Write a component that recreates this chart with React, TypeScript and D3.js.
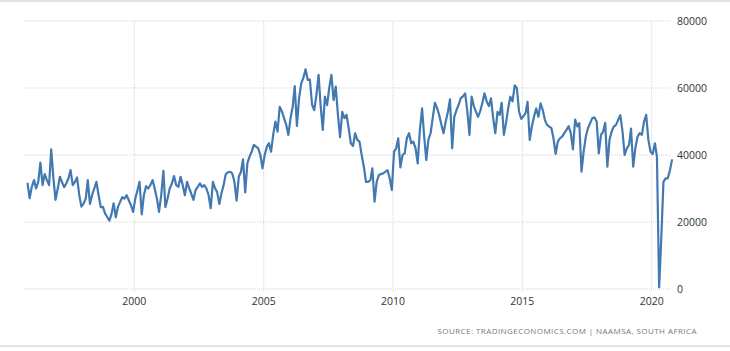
import React from "react";
import * as d3 from "d3";

// Monthly values, Nov 1995 .. Oct 2020
const v1995 = [31700, 27100];
const v1996 = [30500, 32500, 30000, 32000, 37700, 31000, 34300, 32500, 31000, 41700, 33000, 26600];
const v1997 = [30000, 33500, 32000, 30400, 31500, 33000, 35500, 31000, 32000, 33300, 28000, 24600];
const v1998 = [25500, 27000, 32500, 25400, 28000, 30000, 32000, 28000, 24400, 24500, 22500, 21500];
const v1999 = [20400, 22500, 25600, 21400, 24500, 26000, 27400, 27000, 28000, 26500, 25000, 23000];
const v2000 = [27000, 29500, 32000, 22300, 28000, 30700, 30000, 31000, 32500, 30000, 27000, 23000];
const v2001 = [28000, 35300, 24400, 27000, 30000, 31500, 33700, 31000, 30500, 33500, 31000, 28000];
const v2002 = [32000, 30000, 28500, 26600, 29500, 30500, 31500, 30500, 31000, 30000, 28000, 24100];
const v2003 = [32000, 30000, 29000, 25400, 28500, 31000, 34300, 34800, 35000, 34500, 32000, 26400];
const v2004 = [33500, 35000, 38700, 28800, 37500, 39500, 41000, 43000, 42500, 42000, 40000, 36000];
const v2005 = [40000, 42500, 43500, 41000, 46000, 50000, 47000, 54400, 53000, 51000, 49000, 46000];
const v2006 = [51000, 54500, 60600, 48700, 56900, 61400, 63000, 65600, 62400, 62500, 55000, 53400];
const v2007 = [57900, 63900, 55000, 47500, 57400, 54900, 60000, 63900, 56400, 60400, 52000, 45300];
const v2008 = [52900, 51000, 52000, 48000, 43500, 42700, 46500, 44500, 44000, 40000, 36500, 32000];
const v2009 = [32000, 32500, 36000, 26100, 32000, 34000, 34300, 34500, 35000, 35500, 33000, 29600];
const v2010 = [41000, 42000, 45000, 36300, 40000, 40500, 45000, 46500, 43500, 44000, 42000, 37500];
const v2011 = [47500, 53900, 46000, 38500, 44500, 46500, 51000, 55600, 54000, 51900, 49000, 46500];
const v2012 = [50000, 52900, 56600, 42000, 51400, 53400, 55000, 57000, 57500, 58400, 53000, 46000];
const v2013 = [57400, 54600, 53000, 51400, 53000, 55500, 58400, 56000, 54600, 56900, 51000, 46500];
const v2014 = [52900, 52000, 55600, 46000, 49500, 54000, 57400, 56000, 60800, 60000, 53000, 50800];
const v2015 = [51500, 52500, 55900, 44500, 48500, 51500, 53900, 51400, 55400, 53500, 50500, 49000];
const v2016 = [48500, 48000, 45000, 40300, 44000, 45000, 45500, 46500, 47500, 48600, 46500, 41700];
const v2017 = [50600, 48500, 49500, 35000, 41000, 45500, 48000, 49500, 51000, 51200, 50000, 40500];
const v2018 = [46000, 47000, 49600, 36500, 44500, 47000, 48500, 49000, 50500, 51900, 47000, 40000];
const v2019 = [42000, 43000, 47900, 36500, 42000, 45500, 46500, 46000, 50000, 52000, 44500, 41000];
const v2020 = [40300, 43500, 39500, 500, 15000, 32000, 33000, 33000, 35500, 38700];

const startYear = 1995;
const startMonth = 10; // November (0-based)

const yTicks = [0, 20000, 40000, 60000, 80000];
const xTickYears = [2000, 2005, 2010, 2015, 2020];
const sourceText = "SOURCE:  TRADINGECONOMICS.COM  |  NAAMSA,  SOUTH  AFRICA";

const values = [
  ...v1995, ...v1996, ...v1997, ...v1998, ...v1999, ...v2000, ...v2001, ...v2002,
  ...v2003, ...v2004, ...v2005, ...v2006, ...v2007, ...v2008, ...v2009, ...v2010,
  ...v2011, ...v2012, ...v2013, ...v2014, ...v2015, ...v2016, ...v2017, ...v2018,
  ...v2019, ...v2020,
];

const data = values.map((v, i) => ({ date: new Date(startYear, startMonth + i, 15), value: v }));

export default function App() {
  const W = 730;
  const H = 351;
  const x = d3
    .scaleTime()
    .domain([new Date(2000, 0, 1), new Date(2020, 0, 1)])
    .range([134.3, 651.7]);
  const y = d3.scaleLinear().domain([0, 80000]).range([289, 21]);

  const line = d3
    .line<{ date: Date; value: number }>()
    .x((d) => x(d.date))
    .y((d) => y(d.value))
    .curve(d3.curveLinear);

  const gridLeft = 25;
  const gridRight = 670;

  return (
    <svg
      width={W}
      height={H}
      style={{ position: "absolute", left: 0, top: 0, background: "#fff" }}
      fontFamily="'Open Sans', 'Noto Sans', sans-serif"
    >
      <rect x={0} y={0} width={W} height={H} fill="#fff" />
      <line x1={0} x2={W} y1={1} y2={1} stroke="#e2e2e2" strokeWidth={2} />
      <line x1={0} x2={W} y1={346} y2={346} stroke="#e2e2e2" strokeWidth={2} />
      {yTicks.map((t) => (
        <line
          key={"h" + t}
          x1={gridLeft}
          x2={gridRight}
          y1={y(t)}
          y2={y(t)}
          stroke="#d4d4d4"
          strokeWidth={1}
          strokeDasharray="1 1"
        />
      ))}
      {xTickYears.map((yr) => {
        const xx = x(new Date(yr, 0, 1));
        return (
          <line
            key={"v" + yr}
            x1={xx}
            x2={xx}
            y1={y(80000)}
            y2={y(0) + 4}
            stroke="#d4d4d4"
            strokeWidth={1}
            strokeDasharray="1 1"
          />
        );
      })}
      <path d={line(data) || ""} fill="none" stroke="#4379b1" strokeWidth={2.2} strokeLinejoin="round" />
      {yTicks.map((t) => (
        <text key={"yl" + t} x={677} y={y(t)} dy="0.35em" fontSize={10.5} fill="#333">
          {t}
        </text>
      ))}
      {xTickYears.map((yr) => (
        <text
          key={"xl" + yr}
          x={x(new Date(yr, 0, 1))}
          y={305}
          textAnchor="middle"
          fontSize={10.5}
          fill="#333"
        >
          {yr}
        </text>
      ))}
      <text
        x={437.5}
        y={334}
        fontSize={8}
        fill="#777"
        textLength={259}
        lengthAdjust="spacing"
      >
        {sourceText}
      </text>
    </svg>
  );
}
